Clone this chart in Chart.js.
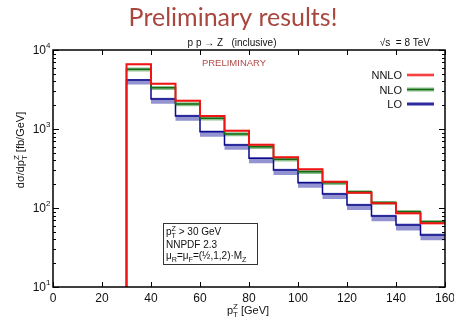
<!DOCTYPE html>
<html lang="en">
<head>
    <meta charset="UTF-8">
    <title>Preliminary results!</title>
    <style>
        body {
            margin: 0;
            padding: 0;
            background: #fff;
        }

        #chartContainer {
            width: 454px;
            height: 322px;
            position: relative;
        }
    </style>
</head>
<body>
    <div id="chartContainer">
        <canvas id="ptChart"></canvas>
    </div>

    <script src="https://cdn.jsdelivr.net/npm/chart.js"></script>
    <script>
        // Bin edges of the pT(Z) histogram (GeV)
        const binEdges = [30, 40, 50, 60, 70, 80, 90, 100, 110, 120, 130, 140, 150, 160];

        // dsigma/dpT [fb/GeV], central values and scale bands
        const nnlo   = [6590, 3750, 2285, 1462, 952, 634, 438, 309, 215, 156, 114.5, 85.5, 64];
        const nnloUp = [6750, 3840, 2340, 1500, 975, 650, 449, 317, 221, 160, 117.5, 88, 66];
        const nnloDn = [6430, 3660, 2230, 1425, 930, 618, 427, 301, 209, 152, 111.5, 83, 62];

        const nlo    = [5700, 3330, 2070, 1365, 865, 597, 413, 288, 209, 160, 117, 89.8, 67];
        const nloUp  = [6000, 3500, 2180, 1430, 910, 628, 435, 303, 220, 168, 123, 94.5, 70.5];
        const nloDn  = [5350, 3120, 1940, 1280, 810, 560, 388, 270, 196, 150, 110, 84, 63];

        const lo     = [4170, 2400, 1462, 925, 627, 425, 303, 209, 150, 109, 79, 61, 45.5];
        const loUp   = [4300, 2480, 1510, 960, 650, 440, 315, 217, 156, 113, 82, 63.5, 47.5];
        const loDn   = [3650, 2090, 1270, 800, 545, 368, 262, 181, 130, 94, 68, 52, 39];

        const xTicks = [0, 20, 40, 60, 80, 100, 120, 140, 160];
        const yTicks = [10, 100, 1000, 10000];
        const yExp = ['1', '2', '3', '4'];

        const series = [
            { name: 'NNLO', v: nnlo, up: nnloUp, dn: nnloDn, line: '#f01414', band: 'rgba(255, 90, 90, 0.35)', lw: 2 },
            { name: 'NLO', v: nlo, up: nloUp, dn: nloDn, line: '#146c14', band: 'rgba(30, 130, 30, 0.5)', lw: 1.5 },
            { name: 'LO', v: lo, up: loUp, dn: loDn, line: '#0a0a8c', band: 'rgba(40, 40, 165, 0.5)', lw: 1.5 }
        ];

        // histogram as step points: value of bin i holds from edge i to edge i+1
        function steps(vals, fromBottom) {
            const pts = [];
            if (fromBottom) pts.push({ x: binEdges[0], y: 1 });
            vals.forEach((v, i) => pts.push({ x: binEdges[i], y: v }));
            pts.push({ x: binEdges[binEdges.length - 1], y: vals[vals.length - 1] });
            return pts;
        }

        const datasets = [];
        series.forEach(s => {
            datasets.push({
                label: s.name,
                data: steps(s.v, true),
                borderColor: s.line,
                borderWidth: s.lw,
                pointRadius: 0,
                stepped: true,
                fill: false
            });
        });
        series.forEach(s => {
            datasets.push({
                label: s.name + ' up',
                data: steps(s.up, false),
                borderWidth: 0,
                pointRadius: 0,
                stepped: true,
                backgroundColor: s.band,
                fill: '+1'
            });
            datasets.push({
                label: s.name + ' down',
                data: steps(s.dn, false),
                borderWidth: 0,
                pointRadius: 0,
                stepped: true,
                fill: false
            });
        });

        // text with sub/superscripts: parts = [[text, kind]], kind '', 'sub', 'sup', 'subsup' ([sub, sup])
        function richWidth(ctx, parts, size, family) {
            let w = 0;
            parts.forEach(([t, k]) => {
                if (k === 'subsup') {
                    ctx.font = (size * 0.72) + 'px ' + family;
                    w += Math.max(ctx.measureText(t[0]).width, ctx.measureText(t[1]).width);
                } else {
                    ctx.font = (k ? size * 0.72 : size) + 'px ' + family;
                    w += ctx.measureText(t).width;
                }
            });
            return w;
        }

        function drawRich(ctx, parts, x, y, size, family, align) {
            const w = richWidth(ctx, parts, size, family);
            if (align === 'center') x -= w / 2;
            if (align === 'right') x -= w;
            ctx.textBaseline = 'alphabetic';
            ctx.textAlign = 'left';
            parts.forEach(([t, k]) => {
                if (k === 'subsup') {
                    ctx.font = (size * 0.72) + 'px ' + family;
                    ctx.fillText(t[0], x, y + size * 0.3);
                    ctx.fillText(t[1], x, y - size * 0.42);
                    x += Math.max(ctx.measureText(t[0]).width, ctx.measureText(t[1]).width);
                } else if (k === 'sub') {
                    ctx.font = (size * 0.72) + 'px ' + family;
                    ctx.fillText(t, x, y + size * 0.3);
                    x += ctx.measureText(t).width;
                } else if (k === 'sup') {
                    ctx.font = (size * 0.72) + 'px ' + family;
                    ctx.fillText(t, x, y - size * 0.42);
                    x += ctx.measureText(t).width;
                } else {
                    ctx.font = size + 'px ' + family;
                    ctx.fillText(t, x, y);
                    x += ctx.measureText(t).width;
                }
            });
        }

        const SANS = '"Liberation Sans", Arial, sans-serif';

        const decorPlugin = {
            id: 'decor',
            afterDraw(chart) {
                const ctx = chart.ctx;
                const a = chart.chartArea;
                const xs = chart.scales.x;
                const ys = chart.scales.y;
                ctx.save();

                // frame
                ctx.strokeStyle = '#000';
                ctx.lineWidth = 1.5;
                ctx.strokeRect(a.left, a.top, a.right - a.left, a.bottom - a.top);

                // x ticks (bottom and top, inside)
                ctx.lineWidth = 1;
                ctx.beginPath();
                xTicks.forEach(t => {
                    const px = Math.round(xs.getPixelForValue(t)) + 0.5;
                    ctx.moveTo(px, a.bottom);
                    ctx.lineTo(px, a.bottom - 5);
                    ctx.moveTo(px, a.top);
                    ctx.lineTo(px, a.top + 5);
                });
                // y ticks, major and minor, left and right
                yTicks.forEach((t, i) => {
                    const py = Math.round(ys.getPixelForValue(t)) + 0.5;
                    ctx.moveTo(a.left, py);
                    ctx.lineTo(a.left + 6, py);
                    ctx.moveTo(a.right, py);
                    ctx.lineTo(a.right - 6, py);
                    if (i < yTicks.length - 1) {
                        for (let m = 2; m <= 9; m++) {
                            const pm = Math.round(ys.getPixelForValue(t * m)) + 0.5;
                            ctx.moveTo(a.left, pm);
                            ctx.lineTo(a.left + 3, pm);
                            ctx.moveTo(a.right, pm);
                            ctx.lineTo(a.right - 3, pm);
                        }
                    }
                });
                ctx.stroke();

                // x tick labels
                ctx.fillStyle = '#111';
                ctx.font = '12px ' + SANS;
                ctx.textAlign = 'center';
                ctx.textBaseline = 'middle';
                xTicks.forEach(t => {
                    ctx.fillText(String(t), xs.getPixelForValue(t), a.bottom + 12);
                });

                // y tick labels 10^n
                yTicks.forEach((t, i) => {
                    const py = ys.getPixelForValue(t);
                    ctx.font = '12px ' + SANS;
                    ctx.textAlign = 'right';
                    ctx.textBaseline = 'middle';
                    ctx.fillText('10', a.left - 7, py + 1);
                    ctx.font = '8px ' + SANS;
                    ctx.textAlign = 'left';
                    ctx.fillText(yExp[i], a.left - 7, py - 4);
                });

                // title
                ctx.fillStyle = '#a9463e';
                ctx.font = '25px Lato, "Open Sans", sans-serif';
                ctx.textAlign = 'center';
                ctx.textBaseline = 'alphabetic';
                ctx.fillText('Preliminary results!', 233, 26);

                // process and energy
                ctx.fillStyle = '#111';
                drawRich(ctx, [['p p \u2192 Z   (inclusive)', '']], 232, 46, 10, SANS, 'center');
                drawRich(ctx, [['\u221As  = 8 TeV', '']], 430, 46, 10, SANS, 'right');

                // PRELIMINARY
                ctx.fillStyle = '#b04a48';
                ctx.font = '9.5px ' + SANS;
                ctx.textAlign = 'center';
                ctx.fillText('PRELIMINARY', 234, 66);

                // legend
                ctx.fillStyle = '#111';
                series.forEach((s, i) => {
                    const ly = 75 + i * 14.5;
                    drawRich(ctx, [[s.name, '']], 402, ly + 4, 11, SANS, 'right');
                    ctx.fillStyle = s.band;
                    ctx.fillRect(407, ly - 2, 27, 4);
                    ctx.strokeStyle = s.line;
                    ctx.lineWidth = 1.5;
                    ctx.beginPath();
                    ctx.moveTo(407, ly);
                    ctx.lineTo(434, ly);
                    ctx.stroke();
                    ctx.fillStyle = '#111';
                });

                // info box
                ctx.strokeStyle = '#333';
                ctx.lineWidth = 1;
                ctx.strokeRect(163.5, 223.5, 94, 41);
                ctx.fillStyle = '#111';
                drawRich(ctx, [['p', ''], [['T', 'Z'], 'subsup'], [' > 30 GeV', '']], 166, 235, 10, SANS, 'left');
                drawRich(ctx, [['NNPDF 2.3', '']], 166, 248, 10, SANS, 'left');
                drawRich(ctx, [['\u03BC', ''], ['R', 'sub'], ['=\u03BC', ''], ['F', 'sub'], ['=(\u00BD,1,2)\u00B7M', ''], ['Z', 'sub']], 166, 259, 10, SANS, 'left');

                // axis titles
                drawRich(ctx, [['p', ''], [['T', 'Z'], 'subsup'], [' [GeV]', '']], 248, 314, 11, SANS, 'center');
                ctx.save();
                ctx.translate(24, 150);
                ctx.rotate(-Math.PI / 2);
                drawRich(ctx, [['d\u03C3/dp', ''], [['T', 'Z'], 'subsup'], [' [fb/GeV]', '']], 0, 0, 11, SANS, 'center');
                ctx.restore();

                ctx.restore();
            }
        };

        const ctx = document.getElementById('ptChart').getContext('2d');
        new Chart(ctx, {
            type: 'line',
            data: { datasets: datasets },
            options: {
                responsive: true,
                maintainAspectRatio: false,
                animation: false,
                events: [],
                layout: { padding: { left: 0, right: 9, top: 50, bottom: 0 } },
                plugins: {
                    legend: { display: false },
                    tooltip: { enabled: false },
                    filler: { drawTime: 'beforeDatasetsDraw' }
                },
                scales: {
                    x: {
                        type: 'linear',
                        min: 0,
                        max: 160,
                        grid: { display: false },
                        border: { display: false },
                        ticks: { display: false },
                        afterFit: s => { s.height = 35; }
                    },
                    y: {
                        type: 'logarithmic',
                        min: 10,
                        max: 10000,
                        grid: { display: false },
                        border: { display: false },
                        ticks: { display: false },
                        afterFit: s => { s.width = 53; }
                    }
                }
            },
            plugins: [decorPlugin]
        });
    </script>
</body>
</html>
